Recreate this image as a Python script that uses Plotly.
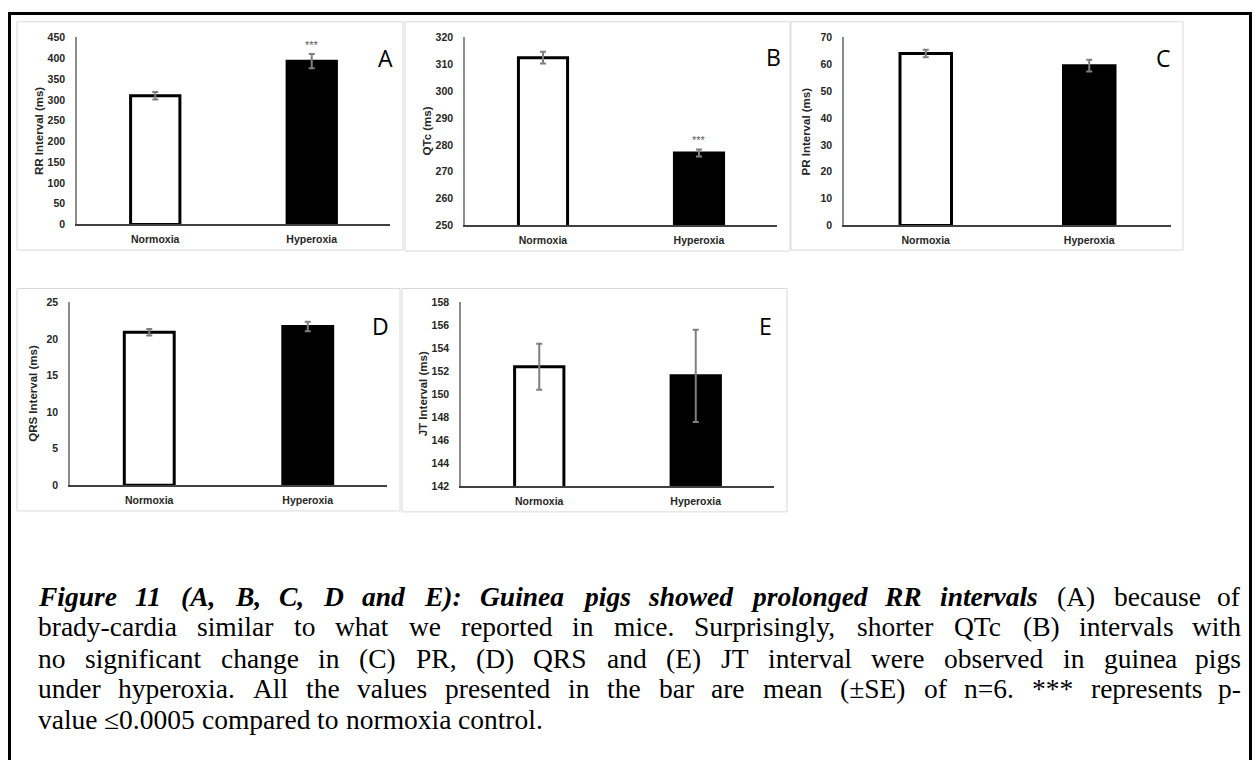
import plotly.graph_objects as go

W, H = 1254, 760

categories = ["Normoxia", "Hyperoxia"]
rr_mean = [310, 393]
rr_se = [9, 17]
qtc_mean = [312.5, 277]
qtc_se = [2.2, 1.3]
pr_mean = [64, 59.5]
pr_se = [1.4, 2.2]
qrs_mean = [20.9, 21.7]
qrs_se = [0.45, 0.65]
jt_mean = [152.4, 151.6]
jt_se = [2.0, 4.0]

panel_letters = ["A", "B", "C", "D", "E"]
y_titles = ["RR Interval (ms)", "QTc (ms)", "PR Interval (ms)", "QRS Interval (ms)", "JT Interval (ms)"]
y_ranges = [[0, 450], [250, 320], [0, 70], [0, 25], [142, 158]]
y_dticks = [50, 10, 10, 5, 2]
stars = [["", "***"], ["", "***"], ["", ""], ["", ""], ["", ""]]

means = [rr_mean, qtc_mean, pr_mean, qrs_mean, jt_mean]
ses = [rr_se, qtc_se, pr_se, qrs_se, jt_se]

caption_lines = [
    [("Figure 11 (A, B, C, D and E): Guinea pigs showed prolonged RR intervals", "bi"), ("(A) because of", "r")],
    [("brady-cardia similar to what we reported in mice. Surprisingly, shorter QTc (B) intervals with", "r")],
    [("no significant change in (C) PR, (D) QRS and (E) JT interval were observed in guinea pigs", "r")],
    [("under hyperoxia. All the values presented in the bar are mean (±SE) of n=6. *** represents p-", "r")],
    [("value ≤0.0005 compared to normoxia control.", "r")],
]

# ---------- layout geometry (pixels) ----------
boxes = [(17, 16, 403, 248), (405, 16, 790, 249), (791, 16, 1183, 248),
         (17, 287, 400, 513), (402, 287, 787, 514)]
plots = [(77, 32, 390, 222), (465, 32, 777, 223), (844, 32, 1171, 223),
         (70, 301, 387, 487), (461, 301, 774, 488)]
letter_pos = [(385, 53), (773, 52), (1163, 53), (380, 325), (765, 325)]
ytitle_x = [39, 427, 806, 33, 423]


def px(x):
    return x / W


def py(y):
    return 1 - y / H


fig = go.Figure()
layout = dict(width=W, height=H, margin=dict(l=0, r=0, t=0, b=0),
              paper_bgcolor="white", plot_bgcolor="white", showlegend=False,
              bargap=0.685)
shapes = []
annotations = []

tickfont = dict(family="Liberation Sans", size=10.5, color="#262626", weight="bold")

for i in range(5):
    n = "" if i == 0 else str(i + 1)
    xa, ya = "x" + n, "y" + n
    fig.add_trace(go.Bar(
        x=categories, y=means[i], xaxis=xa, yaxis=ya,
        marker=dict(color=["white", "black"], line=dict(color="black", width=3)),
        error_y=dict(type="data", array=ses[i], color="#7f7f7f", thickness=2, width=3),
        hoverinfo="skip"))
    x0, y0, x1, y1 = plots[i]
    layout["xaxis" + n] = dict(domain=[px(x0), px(x1)], anchor=ya, showline=True,
                               linecolor="#404040", linewidth=1.5, ticks="",
                               tickfont=tickfont, showgrid=False, zeroline=False,
                               ticklabelstandoff=4, fixedrange=True)
    layout["yaxis" + n] = dict(domain=[py(y1), py(y0)], anchor=xa, showline=True,
                               linecolor="#8c8c8c", linewidth=1.5, ticks="",
                               range=y_ranges[i], dtick=y_dticks[i], tick0=y_ranges[i][0],
                               tickfont=tickfont, showgrid=False, zeroline=False,
                               ticklabelstandoff=8, fixedrange=True)
    bx0, by0, bx1, by1 = boxes[i]
    shapes.append(dict(type="rect", xref="paper", yref="paper", x0=px(bx0), x1=px(bx1),
                       y0=py(by1), y1=py(by0), line=dict(color="#d9d9d9", width=1),
                       layer="below"))
    lx, ly = letter_pos[i]
    annotations.append(dict(text=panel_letters[i], x=px(lx), y=py(ly), xref="paper", yref="paper",
                            showarrow=False, xanchor="center", yanchor="middle",
                            font=dict(family="Open Sans", size=23, color="black")))
    annotations.append(dict(text=y_titles[i], x=px(ytitle_x[i]), y=py((y0 + y1) / 2),
                            xref="paper", yref="paper", showarrow=False, textangle=-90,
                            xanchor="center", yanchor="middle",
                            font=dict(family="Liberation Sans", size=11.5, color="#262626",
                                      weight="bold")))
    for j, s in enumerate(stars[i]):
        if s:
            annotations.append(dict(text=s, x=categories[j], y=means[i][j] + ses[i][j],
                                    xref=xa, yref=ya, showarrow=False, yanchor="middle",
                                    yshift=9, font=dict(family="Liberation Sans", size=11,
                                                        color="#595959")))

# outer frame
shapes.append(dict(type="rect", xref="paper", yref="paper", x0=px(9.5), x1=px(1250.5),
                   y0=py(790), y1=py(7.5), line=dict(color="black", width=3)))

# ---------- justified caption ----------
TR = {' ': 250, '(': 333, ')': 333, '*': 500, ',': 250, '-': 333, '.': 250, ':': 278, '=': 564,
      '±': 564, '≤': 549, 'A': 722, 'B': 667, 'C': 667, 'D': 722, 'E': 611, 'F': 556, 'G': 722,
      'J': 389, 'P': 556, 'Q': 722, 'R': 667, 'S': 556, 'T': 611,
      'a': 444, 'b': 500, 'c': 444, 'd': 500, 'e': 444, 'f': 333, 'g': 500, 'h': 500, 'i': 278,
      'k': 500, 'l': 278, 'm': 778, 'n': 500, 'o': 500, 'p': 500, 'q': 500, 'r': 333, 's': 389,
      't': 278, 'u': 500, 'v': 500, 'w': 722, 'x': 500, 'y': 500, 'z': 444}
TBI = {' ': 250, '(': 333, ')': 333, ',': 250, ':': 333, '1': 500, 'A': 667, 'B': 667, 'C': 667,
       'D': 722, 'E': 667, 'F': 667, 'G': 722, 'R': 667, 'a': 500, 'b': 500, 'c': 444, 'd': 500,
       'e': 444, 'f': 333, 'g': 500, 'h': 556, 'i': 278, 'l': 278, 'n': 556, 'o': 500, 'p': 500,
       'r': 389, 's': 389, 't': 278, 'u': 556, 'v': 444, 'w': 667}
FS = 27.5
LEFT, RIGHT = 37, 1242
baselines = [609, 640, 672, 703, 734]


def wwidth(word, style):
    table = TBI if style == "bi" else TR
    return sum(table.get(c, 500) for c in word) / 1000 * FS


for li, segs in enumerate(caption_lines):
    words = []
    for text, style in segs:
        for w in text.split(" "):
            words.append((w, style))
    widths = [wwidth(w, s) for w, s in words]
    last = li == len(caption_lines) - 1
    if last:
        gap = 0.25 * FS
    else:
        gap = (RIGHT - LEFT - sum(widths)) / (len(words) - 1)
    x = LEFT
    yc = baselines[li] - 0.3375 * FS
    for k, ((w, s), wd) in enumerate(zip(words, widths)):
        txt = "<b><i>%s</i></b>" % w if s == "bi" else w
        is_end = (not last) and k == len(words) - 1
        annotations.append(dict(text=txt, x=px(RIGHT if is_end else x), y=py(yc),
                                xref="paper", yref="paper", showarrow=False,
                                xanchor="right" if is_end else "left", yanchor="middle",
                                borderpad=0,
                                font=dict(family="Liberation Serif", size=FS, color="black")))
        x += wd + gap

layout["shapes"] = shapes
layout["annotations"] = annotations
fig.update_layout(**layout)
fig.write_html("out.html", config={"displayModeBar": False},
               post_script="document.body.style.margin='0px';document.body.style.overflow='hidden';")
